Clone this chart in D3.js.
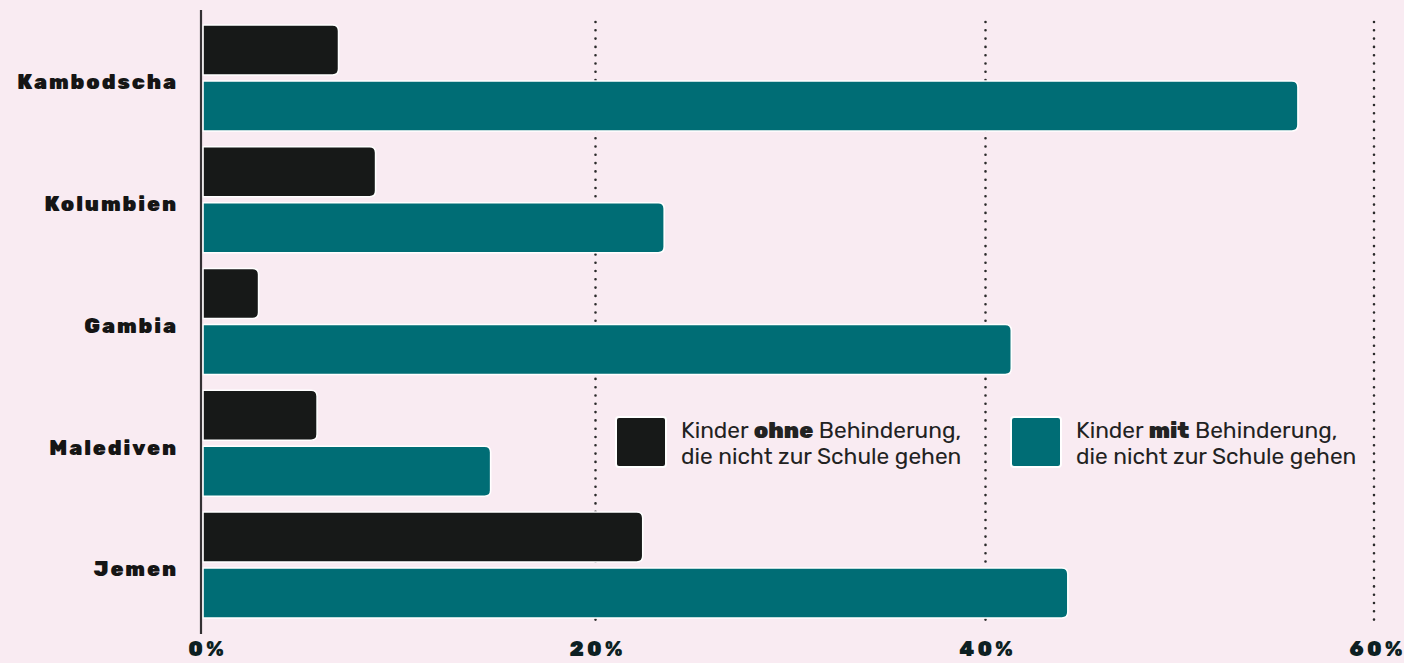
<!DOCTYPE html>
<html><head><meta charset="utf-8">
<script src="https://cdn.jsdelivr.net/npm/d3@7"></script>
<style>
html,body{margin:0;padding:0;background:#f9ebf2;}
svg{display:block;}
</style></head>
<body>
<svg id="chart" width="1404" height="663"></svg>
<script>
const categories = ["Kambodscha","Kolumbien","Gambia","Malediven","Jemen"];
const ohneValues = [6.9, 8.8, 2.8, 5.8, 22.5];
const mitValues  = [56.1, 23.6, 41.4, 14.7, 44.3];
const tickValues = [0, 20, 40, 60];
const tickLabels = ["0%","20%","40%","60%"];
const seriesNames = ["ohne","mit"];

const svg = d3.select("#chart");
const colors = {ohne:"#171918", mit:"#006d75"};

const x = d3.scaleLinear().domain([0,60]).range([204,1374]);
const y = d3.scaleBand().domain(categories).range([19.5, 628.25]).paddingInner(0).paddingOuter(0);
const subOffset = {ohne:5.5, mit:61.5};
const barH = 50;

// gridlines
svg.append("g").selectAll("line").data(tickValues.filter(d=>d>0)).join("line")
  .attr("x1", d=>x(d)+(d<60?1.5:0)).attr("x2", d=>x(d)+(d<60?1.5:0))
  .attr("y1", 22).attr("y2", 620)
  .attr("stroke","#2a2a2a").attr("stroke-width",2.6)
  .attr("stroke-linecap","round").attr("stroke-dasharray","0 8.3");

function barPath(x0, x1, y0, h, r){
  const w = x1 - x0; r = Math.min(r, w/2, h/2);
  return `M${x0},${y0}H${x1-r}Q${x1},${y0} ${x1},${y0+r}V${y0+h-r}Q${x1},${y0+h} ${x1-r},${y0+h}H${x0}Z`;
}

const rows = categories.map((c,i)=>({cat:c, ohne:ohneValues[i], mit:mitValues[i]}));
const g = svg.append("g");
rows.forEach(r=>{
  seriesNames.forEach(s=>{
    g.append("path")
      .attr("d", barPath(x(0)-1, x(r[s]), y(r.cat)+subOffset[s], barH, 6))
      .attr("fill", colors[s]).attr("stroke","#ffffff").attr("stroke-width",1.6);
  });
});

// axis line
svg.append("line").attr("x1",201).attr("x2",201).attr("y1",10).attr("y2",634)
  .attr("stroke","#333033").attr("stroke-width",2.2);

// category labels
svg.append("g").selectAll("text").data(categories).join("text")
  .attr("x",178).attr("y", d=>y(d)+62.5)
  .attr("dy","0.35em").attr("text-anchor","end")
  .attr("font-family","Rubik, 'DejaVu Sans', sans-serif").attr("font-weight","900")
  .attr("font-size",21).attr("letter-spacing","1.9px")
  .attr("fill","#151515").text(d=>d);

// tick labels
const xAxis = d3.axisBottom(x).tickValues(tickValues).tickFormat((d,i)=>tickLabels[i]).tickSize(0).tickPadding(0);
const ax = svg.append("g").attr("transform","translate(3,641)").call(xAxis);
ax.select(".domain").remove();
ax.selectAll("text").attr("font-family","Rubik, 'DejaVu Sans', sans-serif").attr("font-weight","900")
  .attr("font-size",20.5).attr("letter-spacing","3.2px").attr("fill","#0d1f22");

// legend
const legend = [
  {key:"ohne", x:616, pre:"Kinder ", bold:"ohne", post:" Behinderung,"},
  {key:"mit", x:1011, pre:"Kinder ", bold:"mit", post:" Behinderung,"}
];
const lg = svg.append("g").selectAll("g").data(legend).join("g").attr("transform", d=>`translate(${d.x},417)`);
lg.append("rect").attr("width",50).attr("height",50).attr("rx",3)
  .attr("fill", d=>colors[d.key]).attr("stroke","#fff").attr("stroke-width",2);
const fs = 22.7;
const t = lg.append("text").attr("x",65).attr("y",21)
  .attr("font-family","Rubik, 'Noto Sans', sans-serif").attr("font-size",fs).attr("fill","#222");
t.append("tspan").text(d=>d.pre);
t.append("tspan").attr("font-weight","900").text(d=>d.bold);
t.append("tspan").text(d=>d.post);
lg.append("text").attr("x",65).attr("y",47)
  .attr("font-family","Rubik, 'Noto Sans', sans-serif").attr("font-size",fs).attr("fill","#222")
  .text("die nicht zur Schule gehen");
</script>
</body></html>
